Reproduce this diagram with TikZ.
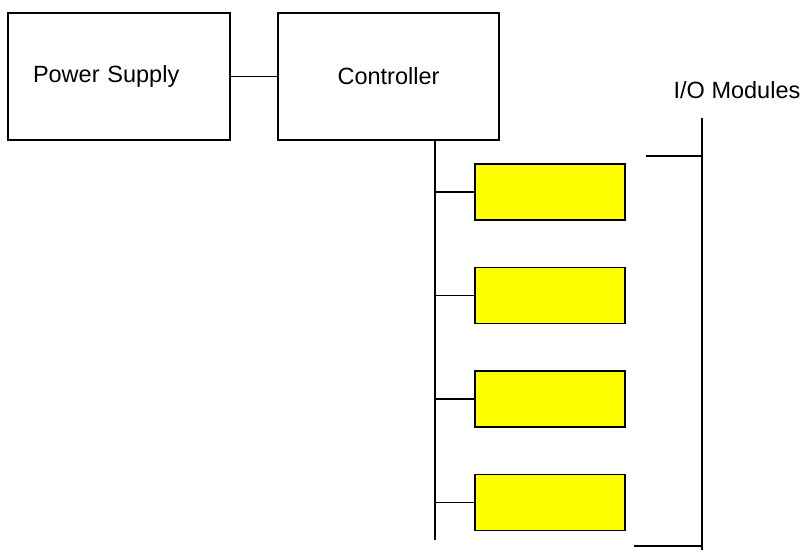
\documentclass[tikz,border=0pt]{standalone}
\usepackage{fontspec}
\setmainfont{Liberation Sans}
\usepackage{tikz}
\usetikzlibrary{positioning}
\definecolor{modyellow}{RGB}{255,255,0}

\begin{document}
\begin{tikzpicture}[x=1pt, y=-1pt,
	font=\fontsize{23.5}{27}\selectfont,
	box/.style={draw, line width=1.6pt, minimum height=127pt, inner sep=0pt},
	module/.style={draw, line width=1.6pt, fill=modyellow, minimum width=150pt, minimum height=56pt},
	wire/.style={line width=1.6pt},
	rail/.style={line width=2.2pt}]
	\useasboundingbox (0,0) rectangle (804,550);

	\node[box, inner xsep=25pt, text width=172pt, align=left] (psu) at (119,76.5) {Power Supply};
	\node[box, minimum width=221pt] (ctrl) at (388.5,76.5) {Controller};
	\node (iolabel) at (737,90) {I/O Modules};

	\coordinate (bustop) at (435,140);
	\coordinate (busend) at (435,540);
	\coordinate (railtop) at (702,118);
	\coordinate (railend) at (702,550);
	\coordinate (ticktop) at (646,156);
	\coordinate (tickend) at (634,546);

	\draw[wire] (psu) -- (ctrl);
	\draw[wire] (bustop) -- (busend);

	\foreach \i in {1,...,4} {
		\node[module] (m\i) at (550,{192+103.5*(\i-1)}) {};
		\draw[wire] (m\i.west) -- (m\i.west -| bustop);
	}

	\draw[rail] (railtop) -- (railend);
	\draw[wire] (ticktop) -- (ticktop -| railtop);
	\draw[wire] (tickend) -- (tickend -| railtop);
\end{tikzpicture}
\end{document}
